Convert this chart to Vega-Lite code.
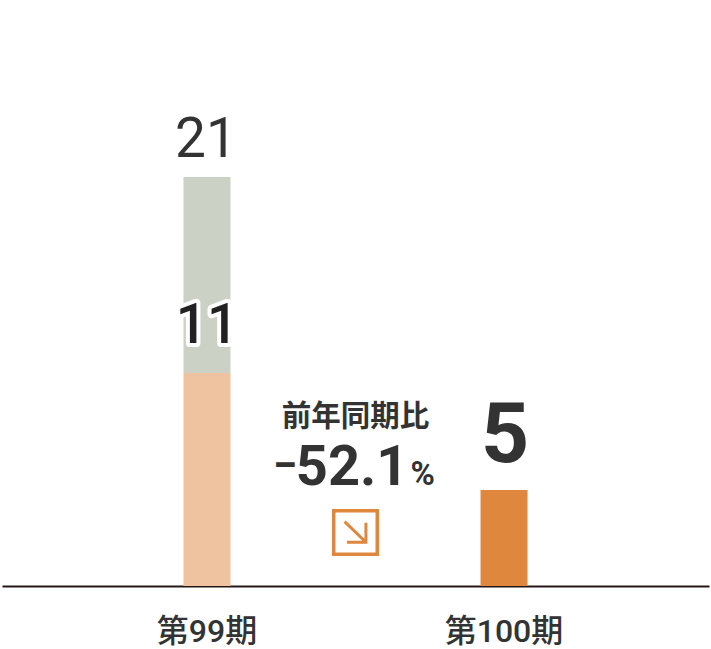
{
  "$schema": "https://vega.github.io/schema/vega-lite/v6.json",
  "width": 707,
  "height": 586,
  "autosize": "none",
  "padding": {"left": 2, "right": 2, "top": 0, "bottom": 63},
  "background": "#ffffff",
  "config": {"view": {"stroke": null}, "text": {"font": "Roboto", "color": "#333333"}},
  "data": {"values": [
    {"period": "第99期", "segment": "a", "value": 10.93},
    {"period": "第99期", "segment": "b", "value": 10.07},
    {"period": "第100期", "segment": "c", "value": 4.93}
  ]},
  "encoding": {
    "x": {
      "field": "period",
      "type": "nominal",
      "title": null,
      "scale": {"domain": ["第99期", "前年同期比", "第100期"], "paddingInner": 0, "paddingOuter": 0.88},
      "axis": {
        "values": ["第99期", "第100期"],
        "labelAngle": 0,
        "ticks": false,
        "domainColor": "#231815",
        "domainWidth": 2,
        "labelFont": "Roboto, Noto Sans CJK JP",
        "labelFontSize": 32,
        "labelFontWeight": 500,
        "labelColor": "#333333",
        "labelPadding": 45,
        "labelBaseline": "middle"
      }
    }
  },
  "layer": [
    {
      "mark": {"type": "bar", "width": 47},
      "encoding": {
        "y": {"field": "value", "type": "quantitative", "stack": "zero", "axis": null, "scale": {"domain": [0, 30.08], "nice": false}},
        "order": {"field": "segment"},
        "color": {"field": "segment", "type": "nominal", "legend": null, "scale": {"domain": ["a", "b", "c"], "range": ["#F0C3A0", "#CCD1C6", "#DF873D"]}}
      }
    },
    {
      "data": {"values": [{"period": "第99期", "total": 21}]},
      "mark": {"type": "text", "fontSize": 55, "baseline": "alphabetic", "dy": -20, "dx": -1},
      "encoding": {"y": {"field": "total", "type": "quantitative"}, "text": {"field": "total"}}
    },
    {
      "data": {"values": [{"period": "第99期", "total": 10.93, "label": "11"}]},
      "mark": {"type": "text", "fontSize": 55, "fontWeight": 500, "baseline": "alphabetic", "dy": -30, "stroke": "#ffffff", "strokeWidth": 8, "strokeJoin": "round"},
      "encoding": {"y": {"field": "total", "type": "quantitative"}, "text": {"field": "label"}}
    },
    {
      "data": {"values": [{"period": "第99期", "total": 10.93, "label": "11"}]},
      "mark": {"type": "text", "fontSize": 55, "fontWeight": 500, "baseline": "alphabetic", "dy": -30, "color": "#222222"},
      "encoding": {"y": {"field": "total", "type": "quantitative"}, "text": {"field": "label"}}
    },
    {
      "data": {"values": [{"period": "第100期", "total": 4.93, "label": "5"}]},
      "mark": {"type": "text", "fontSize": 84, "fontWeight": "bold", "baseline": "alphabetic", "dy": -28, "dx": 1},
      "encoding": {"y": {"field": "total", "type": "quantitative"}, "text": {"field": "label"}}
    },
    {
      "data": {"values": [{"period": "前年同期比"}]},
      "mark": {"type": "text", "font": "Noto Sans CJK JP", "fontWeight": 700, "fontSize": 29.5, "baseline": "alphabetic"},
      "encoding": {"y": {"datum": 8.2}, "text": {"field": "period"}}
    },
    {
      "data": {"values": [{"period": "前年同期比", "label": "−"}]},
      "mark": {"type": "text", "fontWeight": "bold", "fontSize": 44, "baseline": "alphabetic", "align": "right", "dx": -58},
      "encoding": {"y": {"datum": 5.44}, "text": {"field": "label"}}
    },
    {
      "data": {"values": [{"period": "前年同期比", "label": "52.1"}]},
      "mark": {"type": "text", "fontWeight": "bold", "fontSize": 56, "baseline": "alphabetic", "align": "right", "dx": 53},
      "encoding": {"y": {"datum": 5.2}, "text": {"field": "label"}}
    },
    {
      "data": {"values": [{"period": "前年同期比", "label": "%"}]},
      "mark": {"type": "text", "fontWeight": "bold", "fontSize": 33, "baseline": "alphabetic", "align": "left", "dx": 55},
      "encoding": {"y": {"datum": 5.2}, "text": {"field": "label"}}
    },
    {
      "data": {"values": [{"period": "前年同期比"}]},
      "mark": {"type": "point", "shape": "square", "size": 1892, "filled": false, "stroke": "#DF873D", "strokeWidth": 3.5, "opacity": 1},
      "encoding": {"y": {"datum": 2.75}}
    },
    {
      "data": {"values": [{"period": "前年同期比"}]},
      "mark": {"type": "point", "shape": "M-0.5,-0.5L0.48,0.45M0.48,-0.44V0.45H-0.39", "size": 1892, "filled": false, "stroke": "#DF873D", "strokeWidth": 3, "opacity": 1},
      "encoding": {"y": {"datum": 2.75}}
    }
  ]
}
